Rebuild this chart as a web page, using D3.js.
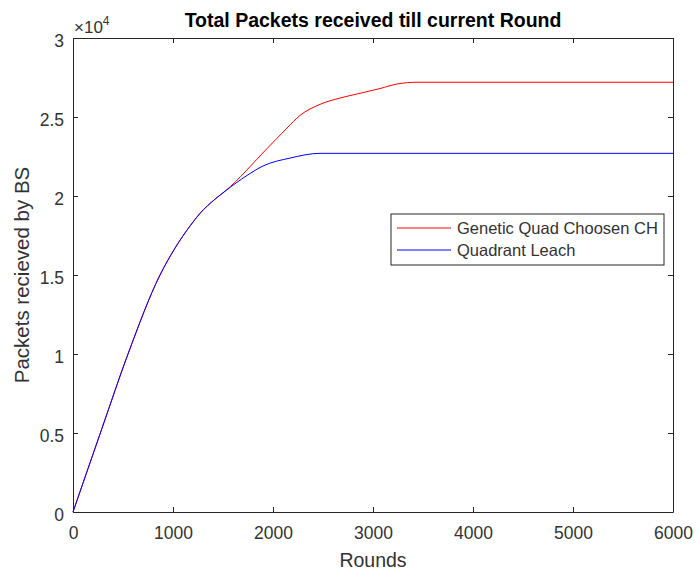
<!DOCTYPE html>
<html>
<head>
<meta charset="utf-8">
<script src="https://cdn.jsdelivr.net/npm/d3@7"></script>
<style>
  body { margin: 0; background: #fff; }
  svg { font-family: "Liberation Sans", Arial, sans-serif; }
</style>
</head>
<body>
<svg id="chart" width="698" height="575"></svg>
<script>
// rounds and packets (x 1e4)
const GENETIC_ROUNDS = [0, 290, 550, 870, 1020, 1170, 1270, 1420, 1520, 1940, 2140, 2270, 2470, 2670, 2870, 3070, 3250, 3440, 6000];
const GENETIC_VALUES = [0, 0.53, 1.0, 1.5, 1.67, 1.81, 1.89, 1.98, 2.03, 2.30, 2.43, 2.51, 2.58, 2.62, 2.65, 2.68, 2.71, 2.72, 2.72];
const LEACH_ROUNDS = [0, 290, 550, 870, 1020, 1170, 1270, 1420, 1520, 1740, 1900, 2170, 2470, 6000];
const LEACH_VALUES = [0, 0.53, 1.0, 1.5, 1.67, 1.81, 1.89, 1.98, 2.03, 2.13, 2.19, 2.24, 2.27, 2.27];

const X_TICKS = [0, 1000, 2000, 3000, 4000, 5000, 6000];
const Y_TICKS = [0, 0.5, 1, 1.5, 2, 2.5, 3];

const SERIES_NAMES = ["Genetic Quad Choosen CH", "Quadrant Leach"];
const SERIES_COLORS = ["#ff0000", "#0000ff"];

const MARGIN = { top: 38, right: 25, bottom: 63, left: 73 };
const TEXT = "#333333";
const AXIS = "#262626";
const TICK_FONT = "17.5px";

const svg = d3.select("#chart");
const FULL_WIDTH = +svg.attr("width");
const FULL_HEIGHT = +svg.attr("height");
const width = FULL_WIDTH - MARGIN.left - MARGIN.right;
const height = FULL_HEIGHT - MARGIN.top - MARGIN.bottom;

const x = d3.scaleLinear().domain([0, 6000]).range([MARGIN.left, MARGIN.left + width]);
const y = d3.scaleLinear().domain([0, 3]).range([MARGIN.top + height, MARGIN.top]);

const series = [
  GENETIC_ROUNDS.map((r, i) => ({ r, v: GENETIC_VALUES[i] })),
  LEACH_ROUNDS.map((r, i) => ({ r, v: LEACH_VALUES[i] })),
];

// axes: ticks inward on all four sides (box on)
const tickStyle = (g) => {
  g.select(".domain").attr("stroke", AXIS);
  g.selectAll(".tick line").attr("stroke", AXIS);
  g.selectAll(".tick text").attr("fill", TEXT).style("font-size", TICK_FONT);
};

svg.append("g")
  .attr("transform", "translate(0," + (MARGIN.top + height) + ")")
  .call(d3.axisBottom(x).tickValues(X_TICKS).tickSize(-5).tickSizeOuter(0).tickPadding(15).tickFormat(d3.format("d")))
  .call(tickStyle);

svg.append("g")
  .attr("transform", "translate(0," + MARGIN.top + ")")
  .call(d3.axisTop(x).tickValues(X_TICKS).tickSize(-5).tickSizeOuter(0).tickFormat(""))
  .call(tickStyle);

svg.append("g")
  .attr("transform", "translate(" + MARGIN.left + ",0)")
  .call(d3.axisLeft(y).tickValues(Y_TICKS).tickSize(-5).tickSizeOuter(0).tickPadding(9).tickFormat(d3.format("")))
  .call(tickStyle)
  .selectAll(".tick text").attr("dy", "0.5em");

svg.append("g")
  .attr("transform", "translate(" + (MARGIN.left + width) + ",0)")
  .call(d3.axisRight(y).tickValues(Y_TICKS).tickSize(-5).tickSizeOuter(0).tickFormat(""))
  .call(tickStyle);

// exponent label
const expo = svg.append("text")
  .attr("x", MARGIN.left + 1)
  .attr("y", 33)
  .attr("fill", TEXT)
  .style("font-size", "17px");
expo.append("tspan").text("\u00d710");
expo.append("tspan").attr("dy", -8).style("font-size", "12px").text("4");

// lines
const line = d3.line().curve(d3.curveMonotoneX).x((d) => x(d.r)).y((d) => y(d.v));
svg.append("g")
  .selectAll("path")
  .data(series)
  .join("path")
  .attr("fill", "none")
  .attr("stroke", (d, i) => SERIES_COLORS[i])
  .attr("stroke-width", 1)
  .attr("d", line);

// title & labels
svg.append("text")
  .attr("x", MARGIN.left + width / 2)
  .attr("y", 27)
  .attr("text-anchor", "middle")
  .attr("fill", "#000")
  .style("font-size", "19.5px")
  .style("font-weight", "bold")
  .text("Total Packets received till current Round");

svg.append("text")
  .attr("x", MARGIN.left + width / 2)
  .attr("y", 567)
  .attr("text-anchor", "middle")
  .attr("fill", TEXT)
  .style("font-size", "19.5px")
  .text("Rounds");

svg.append("text")
  .attr("transform", "translate(29," + (MARGIN.top + height / 2) + ") rotate(-90)")
  .attr("text-anchor", "middle")
  .attr("fill", TEXT)
  .style("font-size", "20.5px")
  .text("Packets recieved by BS");

// legend
const legend = svg.append("g").attr("transform", "translate(391,214)");
legend.append("rect")
  .attr("width", 273)
  .attr("height", 51)
  .attr("fill", "#fff")
  .attr("stroke", AXIS);
const items = legend.selectAll("g")
  .data(SERIES_NAMES)
  .join("g")
  .attr("transform", (d, i) => "translate(0," + (14 + i * 22) + ")");
items.append("line")
  .attr("x1", 6).attr("x2", 60)
  .attr("stroke", (d, i) => SERIES_COLORS[i]);
items.append("text")
  .attr("x", 66)
  .attr("y", 6)
  .attr("fill", TEXT)
  .style("font-size", "16.5px")
  .text((d) => d);
</script>
</body>
</html>
